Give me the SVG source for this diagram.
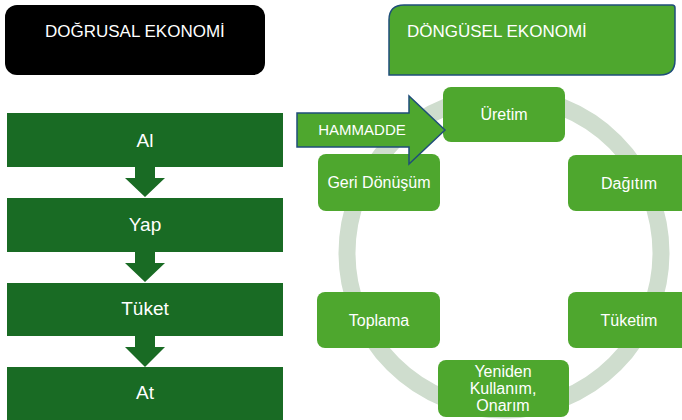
<svg xmlns="http://www.w3.org/2000/svg" width="682" height="420" viewBox="0 0 682 420">
  <style>
    .t { font-family: "Liberation Sans", Arial, sans-serif; fill: #ffffff; text-anchor: middle; }
    .hdr { font-family: "Liberation Sans", Arial, sans-serif; fill: #ffffff; font-size: 17px; }
    .lin { fill: #196b24; }
    .cyc { fill: #4ea72e; }
    .lt { font-size: 19px; }
    .ct { font-size: 16px; }
  </style>
  <rect width="682" height="420" fill="#ffffff"/>

  <g id="header-linear">
    <rect x="5" y="5" width="260" height="70" rx="12" fill="#000000"/>
    <text class="hdr" x="45" y="37">DOĞRUSAL EKONOMİ</text>
  </g>
  <g id="header-circular">
    <path d="M404,5 H672 Q675,5 675,8 V60 Q675,75 660,75 H389 V20 Q389,5 404,5 Z" fill="#4ea72e" stroke="#1f4e79" stroke-width="1.5"/>
    <text class="hdr" x="407" y="37">DÖNGÜSEL EKONOMİ</text>
  </g>

  <g id="ring">
    <circle cx="504" cy="253" r="157" fill="none" stroke="#cfddce" stroke-width="17"/>
  </g>

  <g id="connectors">
    <polygon class="lin" points="135,167 155,167 155,178 165,178 145,197 125,178 135,178"/>
    <polygon class="lin" points="135,252 155,252 155,263 165,263 145,282 125,263 135,263"/>
    <polygon class="lin" points="135,336 155,336 155,347 165,347 145,367 125,347 135,347"/>
  </g>

  <g id="al">
    <rect class="lin" x="7" y="113" width="276" height="54"/>
    <text class="t lt" x="145" y="147">Al</text>
  </g>
  <g id="yap">
    <rect class="lin" x="7" y="198" width="276" height="54"/>
    <text class="t lt" x="145" y="231">Yap</text>
  </g>
  <g id="tuket">
    <rect class="lin" x="7" y="283" width="276" height="53"/>
    <text class="t lt" x="145" y="315">Tüket</text>
  </g>
  <g id="at">
    <rect class="lin" x="7" y="367" width="276" height="60"/>
    <text class="t lt" x="145" y="399">At</text>
  </g>

  <g id="uretim">
    <rect class="cyc" x="443" y="87" width="122" height="55" rx="8"/>
    <text class="t ct" x="504" y="120">Üretim</text>
  </g>
  <g id="geri-donusum">
    <rect class="cyc" x="318" y="154" width="122" height="57" rx="8"/>
    <text class="t ct" x="379" y="188">Geri Dönüşüm</text>
  </g>
  <g id="dagitim">
    <rect class="cyc" x="568" y="155" width="124" height="56" rx="8"/>
    <text class="t ct" x="629" y="189">Dağıtım</text>
  </g>
  <g id="toplama">
    <rect class="cyc" x="317" y="292" width="123" height="56" rx="8"/>
    <text class="t ct" x="379" y="326">Toplama</text>
  </g>
  <g id="tuketim">
    <rect class="cyc" x="568" y="292" width="124" height="56" rx="8"/>
    <text class="t ct" x="629" y="326">Tüketim</text>
  </g>
  <g id="yeniden">
    <rect class="cyc" x="438" y="360" width="131" height="57" rx="8"/>
    <text class="t ct" x="503" y="377">Yeniden</text>
    <text class="t ct" x="503" y="394">Kullanım,</text>
    <text class="t ct" x="503" y="411">Onarım</text>
  </g>

  <g id="hammadde">
    <polygon points="297,113 409,113 409,96 445,130 409,164 409,147 297,147" fill="#4ea72e" stroke="#1f4e79" stroke-width="1.5" stroke-linejoin="miter"/>
    <text class="t" x="362" y="135" font-size="15">HAMMADDE</text>
  </g>
</svg>
